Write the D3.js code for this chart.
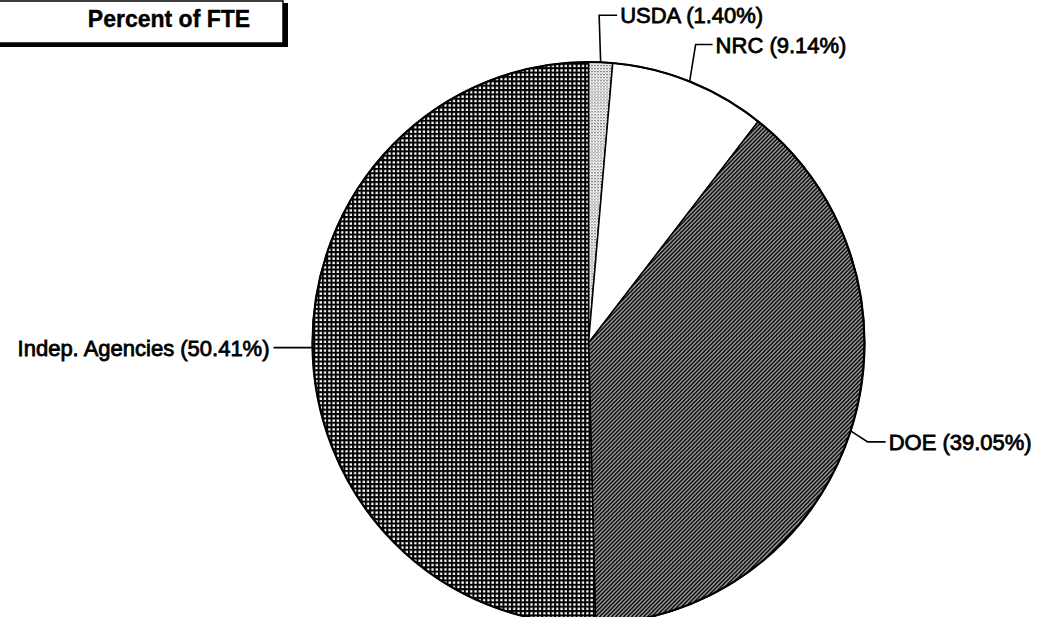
<!DOCTYPE html>
<html><head><meta charset="utf-8">
<script src="https://cdn.jsdelivr.net/npm/d3@7"></script>
<style>html,body{margin:0;padding:0;background:#fff;overflow:hidden}</style>
</head><body>
<svg id="c" width="1044" height="617"></svg>
<script>
const categories = ["USDA", "NRC", "DOE", "Indep. Agencies"];
const values = [1.40, 9.14, 39.05, 50.41];
const labels = ["USDA (1.40%)", "NRC (9.14%)", "DOE (39.05%)", "Indep. Agencies (50.41%)"];
const title = "Percent of FTE";

const svg = d3.select("#c");
const cx = 588.5, cy = 343, rx = 276, ry = 281;
const FONT = "'Liberation Sans', Arial, Helvetica, sans-serif";

const defs = svg.append("defs");
// grid pattern (Indep. Agencies)
const pg = defs.append("pattern").attr("id","grid").attr("patternUnits","userSpaceOnUse")
  .attr("width",4.3).attr("height",4.3);
pg.append("rect").attr("width",4.3).attr("height",4.3).attr("fill","#fff");
pg.append("rect").attr("x",0).attr("y",0).attr("width",2).attr("height",4.3).attr("fill","#000");
pg.append("rect").attr("x",0).attr("y",0).attr("width",4.3).attr("height",2).attr("fill","#000");
// diagonal pattern (DOE)
const pd = defs.append("pattern").attr("id","diag").attr("patternUnits","userSpaceOnUse")
  .attr("width",4).attr("height",4);
pd.append("rect").attr("width",4).attr("height",4).attr("fill","#fff");
pd.append("path").attr("d","M-1,1 L1,-1 M0,4 L4,0 M3,5 L5,3").attr("stroke","#000").attr("stroke-width",1.9);
// stipple (USDA)
const ps = defs.append("pattern").attr("id","dots").attr("patternUnits","userSpaceOnUse")
  .attr("width",3).attr("height",3);
ps.append("rect").attr("width",3).attr("height",3).attr("fill","#fff");
ps.append("rect").attr("x",0).attr("y",0).attr("width",1).attr("height",1).attr("fill","#000");
ps.append("rect").attr("x",1.5).attr("y",1.5).attr("width",1).attr("height",1).attr("fill","#555");

const fills = d3.scaleOrdinal().domain(categories)
  .range(["url(#dots)", "#ffffff", "url(#diag)", "url(#grid)"]);

const pie = d3.pie().sort(null).value(d => d);
const arcs = pie(values);
const arc = d3.arc().innerRadius(0).outerRadius(rx);

const g = svg.append("g").attr("transform", `translate(${cx},${cy}) scale(1,${ry/rx})`);
g.selectAll("path.slice").data(arcs).join("path")
  .attr("class","slice")
  .attr("d", arc)
  .attr("fill", (d,i) => fills(categories[i]))
  .attr("stroke","#000")
  .attr("stroke-width",1.5)
  .attr("vector-effect","non-scaling-stroke");
g.append("ellipse").attr("rx",rx).attr("ry",rx).attr("fill","none")
  .attr("stroke","#000").attr("stroke-width",2.2).attr("vector-effect","non-scaling-stroke");

// labels with leader lines (offsets relative to the slice's mid-angle anchor)
const leader = [
  {edx: -1.5, edy: -47, hx: 18, side: 1},
  {edx: 6, edy: -37, hx: 17, side: 1},
  {edx: 17, edy: 11, hx: 18, side: 1},
  {edx: 0, edy: 1, hx: -39, side: -1}
];
const lab = svg.append("g");
arcs.forEach((a, i) => {
  const mid = (a.startAngle + a.endAngle) / 2;
  const ax = cx + rx * Math.sin(mid);
  const ay = cy - ry * Math.cos(mid);
  const L = leader[i];
  const ex = ax + L.edx, ey = ay + L.edy;
  const tx = ex + L.hx;
  lab.append("path")
    .attr("d", `M${ax},${ay} L${ex},${ey} L${tx},${ey}`)
    .attr("fill","none").attr("stroke","#000").attr("stroke-width",1.6);
  lab.append("text")
    .attr("x", tx + (L.side > 0 ? 3 : -4))
    .attr("y", ey + 8)
    .attr("text-anchor", L.side > 0 ? "start" : "end")
    .attr("font-family", FONT).attr("font-size", 22)
    .attr("fill","#000").attr("stroke","#000").attr("stroke-width",0.8)
    .text(labels[i]);
});

// title box
const tb = svg.append("g");
tb.append("rect").attr("x",283).attr("y",3).attr("width",5).attr("height",44).attr("fill","#000");
tb.append("rect").attr("x",-2).attr("y",43).attr("width",290).attr("height",4).attr("fill","#000");
tb.append("rect").attr("x",-2).attr("y",1).attr("width",285).attr("height",42)
  .attr("fill","#fff").attr("stroke","#000").attr("stroke-width",1.5);
tb.append("text").attr("x",169).attr("y",27).attr("text-anchor","middle")
  .attr("font-family",FONT).attr("font-weight","bold").attr("font-size",23)
  .attr("fill","#000").attr("stroke","#000").attr("stroke-width",0.4).text(title);
</script>
</body></html>
